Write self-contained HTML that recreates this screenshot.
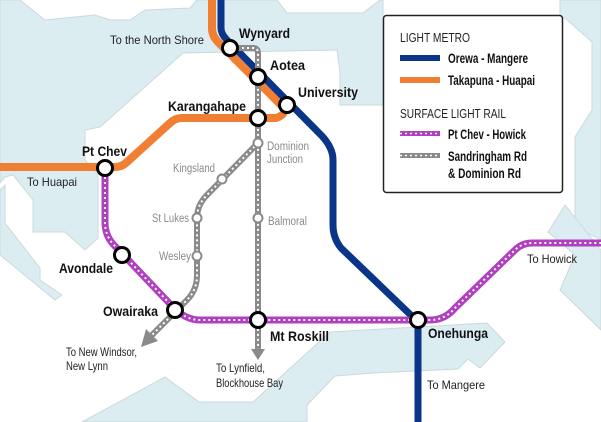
<!DOCTYPE html>
<html><head><meta charset="utf-8"><style>
html,body{margin:0;padding:0;background:#fff}
svg{display:block}
text{font-family:"Liberation Sans",sans-serif}
.b{font-weight:bold;font-size:14px;fill:#111}
.n{font-size:12px;fill:#222}
.g{font-size:11.5px;fill:#8a8a8a}
</style></head><body>
<svg width="601" height="422" viewBox="0 0 601 422" xmlns="http://www.w3.org/2000/svg">
<rect width="601" height="422" fill="#fff"/>
<g fill="#dcedf2" stroke="#c9dadf" stroke-width="1">
<polygon points="0,0 20,0 45,20 95,15 110,20 130,20 145,10 190,8 197,0 277,0 287,13 363,13 380,0 383,0 383,105 340,105 340,72 337,50 183,53 100,127 85,130 85,160 98,175 98,238 85,250 65,232 33,232 33,200 13,175 5,177 0,183"/>
<polygon points="0,190 5,185 5,223 40,268 40,280 62,295 55,300 0,255"/>
<polygon points="560,0 601,0 601,240 575,227 575,137 592,110 592,42 565,18 560,18"/>
<polygon points="601,250 565,205 548,232 575,255 560,290 601,330"/>
<polygon points="330,332 487,323 505,342 480,368 468,359 458,369 373,373 335,376 307,405 307,422 82,422 165,377 199,402 253,402"/>
</g>
<path d="M212,0 V28 Q212,36 218,42 L282,106 Q288,114 276,118 L182,118 Q175,118 170,123 L127,162 Q122,167 115,167 L0,167" fill="none" stroke="#f07f33" stroke-width="8"/>
<path d="M221,0 V28 Q221,34 227,40 L322,136 Q333,148 333,160 V225 Q333,238 341,248 L418,322 V422" fill="none" stroke="#0b3588" stroke-width="7"/>
<g fill="none" stroke-width="6">
<path d="M232,48 H253 Q258,48 258,53 V352" stroke="#8a8a8a"/>
<path d="M232,48 H253 Q258,48 258,53 V352" stroke="#fff" stroke-width="2" stroke-dasharray="2 3"/>
<path d="M258,143 L207,195 Q197,205 197,218 V275 Q197,290 187,300 L151,336" stroke="#8a8a8a"/>
<path d="M258,143 L207,195 Q197,205 197,218 V275 Q197,290 187,300 L151,336" stroke="#fff" stroke-width="2" stroke-dasharray="2 3"/>
</g>
<polygon points="251,349 265,349 258,360" fill="#8a8a8a"/>
<polygon points="146,329 158,341 141,347" fill="#8a8a8a"/>
<path d="M105,167 V222 Q105,235 113,244 L172,306 Q185,320 200,320 L430,320 Q445,320 455,308 L515,250 Q522,243 532,243 L601,243" fill="none" stroke="#b040c0" stroke-width="7"/>
<path d="M105,167 V222 Q105,235 113,244 L172,306 Q185,320 200,320 L430,320 Q445,320 455,308 L515,250 Q522,243 532,243 L601,243" fill="none" stroke="#fff" stroke-width="2" stroke-dasharray="2 3"/>
<g fill="#fff" stroke="#8a8a8a" stroke-width="2">
<circle cx="258" cy="143" r="4.5"/><circle cx="222" cy="179" r="4.5"/>
<circle cx="197" cy="218" r="4.5"/><circle cx="197" cy="256" r="4.5"/>
<circle cx="258" cy="218" r="4.5"/>
</g>
<g fill="#fff" stroke="#000" stroke-width="3">
<circle cx="230" cy="48" r="7.5"/><circle cx="258" cy="77" r="7.5"/>
<circle cx="287" cy="105" r="7.5"/><circle cx="258" cy="118" r="7.5"/>
<circle cx="105" cy="168" r="7.5"/><circle cx="122" cy="255" r="7.5"/>
<circle cx="175" cy="310" r="7.5"/><circle cx="258" cy="320" r="7.5"/>
<circle cx="418" cy="320" r="7.5"/>
</g>
<g lengthAdjust="spacingAndGlyphs">
<text class="b" x="239" y="38" textLength="51" lengthAdjust="spacingAndGlyphs">Wynyard</text>
<text class="n" x="110" y="44" textLength="94" lengthAdjust="spacingAndGlyphs">To the North Shore</text>
<text class="b" x="270" y="70" textLength="35" lengthAdjust="spacingAndGlyphs">Aotea</text>
<text class="b" x="298" y="97" textLength="60" lengthAdjust="spacingAndGlyphs">University</text>
<text class="b" x="168" y="111" textLength="78" lengthAdjust="spacingAndGlyphs">Karangahape</text>
<text class="b" x="82" y="156" textLength="45" lengthAdjust="spacingAndGlyphs">Pt Chev</text>
<text class="n" x="27" y="186" textLength="50" lengthAdjust="spacingAndGlyphs">To Huapai</text>
<text class="g" x="267" y="150" textLength="42" lengthAdjust="spacingAndGlyphs">Dominion</text>
<text class="g" x="267" y="163" textLength="36" lengthAdjust="spacingAndGlyphs">Junction</text>
<text class="g" x="173" y="172" textLength="42" lengthAdjust="spacingAndGlyphs">Kingsland</text>
<text class="g" x="152" y="222" textLength="37" lengthAdjust="spacingAndGlyphs">St Lukes</text>
<text class="g" x="268" y="225" textLength="39" lengthAdjust="spacingAndGlyphs">Balmoral</text>
<text class="g" x="159" y="260" textLength="32" lengthAdjust="spacingAndGlyphs">Wesley</text>
<text class="b" x="59" y="273" textLength="54" lengthAdjust="spacingAndGlyphs">Avondale</text>
<text class="b" x="103" y="316" textLength="55" lengthAdjust="spacingAndGlyphs">Owairaka</text>
<text class="b" x="270" y="341" textLength="59" lengthAdjust="spacingAndGlyphs">Mt Roskill</text>
<text class="b" x="428" y="338" textLength="60" lengthAdjust="spacingAndGlyphs">Onehunga</text>
<text class="n" x="66" y="356" textLength="71" lengthAdjust="spacingAndGlyphs">To New Windsor,</text>
<text class="n" x="66" y="370" textLength="42" lengthAdjust="spacingAndGlyphs">New Lynn</text>
<text class="n" x="216" y="372" textLength="49" lengthAdjust="spacingAndGlyphs">To Lynfield,</text>
<text class="n" x="216" y="387" textLength="67" lengthAdjust="spacingAndGlyphs">Blockhouse Bay</text>
<text class="n" x="427" y="389" textLength="58" lengthAdjust="spacingAndGlyphs">To Mangere</text>
<text class="n" x="527" y="263" textLength="50" lengthAdjust="spacingAndGlyphs">To Howick</text>
</g>
<rect x="383.5" y="15.5" width="179" height="177" rx="3" fill="#fff" stroke="#222" stroke-width="1.5"/>
<text x="400" y="42" font-size="13" fill="#222" textLength="70" lengthAdjust="spacingAndGlyphs">LIGHT METRO</text>
<rect x="400" y="55" width="40" height="6" fill="#0b3588"/>
<text class="b" x="448" y="63" textLength="80" lengthAdjust="spacingAndGlyphs" style="font-size:13.5px">Orewa - Mangere</text>
<rect x="400" y="77" width="40" height="6" fill="#f07f33"/>
<text class="b" x="448" y="85" textLength="87" lengthAdjust="spacingAndGlyphs" style="font-size:13.5px">Takapuna - Huapai</text>
<text x="400" y="118" font-size="13" fill="#222" textLength="106" lengthAdjust="spacingAndGlyphs">SURFACE LIGHT RAIL</text>
<rect x="400" y="131" width="40" height="5" fill="#b040c0"/>
<line x1="400" y1="133.5" x2="440" y2="133.5" stroke="#fff" stroke-width="1.5" stroke-dasharray="2 3"/>
<text class="b" x="448" y="139" textLength="78" lengthAdjust="spacingAndGlyphs" style="font-size:13.5px">Pt Chev - Howick</text>
<rect x="400" y="153" width="40" height="5" fill="#8a8a8a"/>
<line x1="400" y1="155.5" x2="440" y2="155.5" stroke="#fff" stroke-width="1.5" stroke-dasharray="2 3"/>
<text class="b" x="448" y="161" textLength="79" lengthAdjust="spacingAndGlyphs" style="font-size:13.5px">Sandringham Rd</text>
<text class="b" x="448" y="178" textLength="73" lengthAdjust="spacingAndGlyphs" style="font-size:13.5px">&amp; Dominion Rd</text>
</svg>
</body></html>
